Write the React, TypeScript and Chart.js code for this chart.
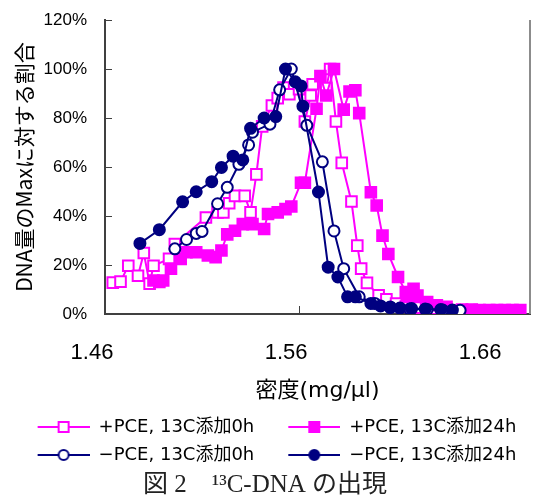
import React, { useEffect, useRef } from 'react';
import { Chart, registerables } from 'chart.js';

Chart.register(...registerables);

// ---- data ----
const xTickValues = [1.46, 1.56, 1.66];
const xMin = 1.46;
const xMax = 1.679;
const yMin = 0;
const yMax = 120;
const yStep = 20;

const seriesLabels = ['+PCE, 13C添加0h', '+PCE, 13C添加24h', '−PCE, 13C添加0h', '−PCE, 13C添加24h'];
const xTitle = '密度(mg/μl)';
const yTitle = 'DNA量のMaxに対する割合';
const caption = '図 2　¹³C-DNA の出現';

const plus0hX = [1.464, 1.468, 1.472, 1.477, 1.480, 1.483, 1.485, 1.493, 1.496, 1.512, 1.518, 1.521, 1.524, 1.527, 1.532, 1.535, 1.538, 1.541, 1.546, 1.549, 1.552, 1.555, 1.560, 1.563, 1.566, 1.567, 1.574, 1.576, 1.579, 1.582, 1.587, 1.590, 1.592, 1.595, 1.601, 1.605, 1.610, 1.615, 1.620, 1.628, 1.635, 1.643];
const plus0hY = [12.8, 13.2, 19.7, 15.6, 24.9, 12.4, 19.7, 22.5, 28.6, 39.4, 41.5, 41.5, 45.2, 48.2, 48.2, 41.5, 57.0, 76.6, 85.1, 88.1, 92.4, 89.7, 91.8, 78.6, 89.2, 93.8, 92.2, 100, 78.6, 61.7, 45.9, 27.9, 18.5, 12.7, 7.6, 6.0, 4.3, 3.0, 2.6, 2.2, 1.8, 1.4];

const plus24hX = [1.485, 1.488, 1.490, 1.494, 1.499, 1.502, 1.507, 1.513, 1.517, 1.520, 1.523, 1.527, 1.531, 1.536, 1.542, 1.544, 1.549, 1.553, 1.556, 1.561, 1.563, 1.569, 1.571, 1.574, 1.578, 1.583, 1.586, 1.589, 1.591, 1.597, 1.600, 1.603, 1.606, 1.611, 1.615, 1.616, 1.619, 1.621, 1.626, 1.631, 1.636, 1.644, 1.649, 1.653, 1.658, 1.662, 1.666, 1.670, 1.674];
const plus24hY = [13.7, 13.1, 13.7, 18.5, 22.5, 25.2, 25.2, 23.9, 23.2, 25.9, 32.5, 34.0, 36.7, 36.7, 34.7, 40.8, 41.5, 42.8, 43.9, 53.6, 53.6, 83.8, 97.1, 89.2, 100, 83.4, 90.8, 91.3, 82.0, 49.7, 44.3, 32.0, 24.5, 15.1, 9.0, 7.0, 10.3, 7.5, 4.9, 3.6, 2.9, 1.8, 1.8, 1.6, 1.6, 1.6, 1.6, 1.6, 1.6];

const minus0hX = [1.496, 1.502, 1.507, 1.510, 1.518, 1.523, 1.529, 1.534, 1.536, 1.545, 1.550, 1.556, 1.564, 1.572, 1.578, 1.583, 1.591, 1.599, 1.607, 1.617, 1.626, 1.634, 1.643];
const minus0hY = [26.6, 30.4, 32.9, 33.7, 45.0, 51.7, 61.1, 69.0, 74.2, 77.5, 91.5, 100, 77.0, 62.1, 33.9, 18.5, 7.0, 4.3, 2.6, 2.0, 1.8, 1.6, 1.5];

const minus24hX = [1.478, 1.488, 1.500, 1.507, 1.515, 1.520, 1.526, 1.531, 1.535, 1.542, 1.548, 1.553, 1.558, 1.561, 1.562, 1.570, 1.575, 1.580, 1.585, 1.589, 1.597, 1.602, 1.607, 1.612, 1.618, 1.625, 1.633, 1.639];
const minus24hY = [28.8, 34.4, 45.8, 49.9, 54.0, 59.8, 64.4, 62.9, 75.8, 80.0, 80.6, 100, 94.8, 93.1, 84.8, 49.8, 19.1, 15.1, 7.0, 7.0, 4.3, 3.3, 2.9, 2.4, 2.2, 2.0, 1.8, 1.6];

const MAGENTA = '#FF00FF';
const NAVY = '#000080';
const LATIN_CJK = '"DejaVu Sans", "Noto Sans CJK JP", sans-serif';

const zip = (xs: number[], ys: number[]) => xs.map((x, i) => ({ x, y: ys[i] }));

// legend icon: blank lead-in, then a line segment with the marker in its middle
const ICON_W = 76;
const ICON_LEAD = 24;
function makeLegendIcon(color: string, shape: 'rect' | 'circle', filled: boolean) {
  const c = document.createElement('canvas');
  c.width = ICON_W;
  c.height = 14;
  const ctx = c.getContext('2d')!;
  ctx.strokeStyle = color;
  ctx.lineWidth = 2;
  ctx.beginPath();
  ctx.moveTo(ICON_LEAD, 7);
  ctx.lineTo(ICON_W, 7);
  ctx.stroke();
  const cx = (ICON_LEAD + ICON_W) / 2;
  ctx.fillStyle = filled ? color : '#FFFFFF';
  ctx.beginPath();
  if (shape === 'rect') {
    ctx.rect(cx - 5, 2, 10, 10);
  } else {
    ctx.arc(cx, 7, 5, 0, Math.PI * 2);
  }
  ctx.fill();
  ctx.stroke();
  return c;
}

const frame = {
  id: 'frame',
  beforeDatasetsDraw(chart: any) {
    const { ctx, chartArea, scales } = chart;
    const { left, right, top, bottom } = chartArea;
    ctx.save();
    ctx.strokeStyle = '#404040';
    ctx.lineWidth = 1;
    scales.y.ticks.forEach((t: any) => {
      const py = Math.round(scales.y.getPixelForValue(t.value)) + 0.5;
      ctx.beginPath();
      ctx.moveTo(left, py);
      ctx.lineTo(left + 7, py);
      ctx.stroke();
    });
    scales.x.ticks.forEach((t: any) => {
      const px = Math.round(scales.x.getPixelForValue(t.value)) + 0.5;
      ctx.beginPath();
      ctx.moveTo(px, bottom);
      ctx.lineTo(px, bottom - 8);
      ctx.stroke();
    });
    ctx.strokeStyle = '#8C8C8C';
    ctx.lineWidth = 2;
    ctx.beginPath();
    ctx.moveTo(right, top);
    ctx.lineTo(right, bottom);
    ctx.stroke();
    ctx.restore();
  },
};

export default function App() {
  const ref = useRef<HTMLCanvasElement | null>(null);

  useEffect(() => {
    if (!ref.current) return;
    const icons = [
      makeLegendIcon(MAGENTA, 'rect', false),
      makeLegendIcon(MAGENTA, 'rect', true),
      makeLegendIcon(NAVY, 'circle', false),
      makeLegendIcon(NAVY, 'circle', true),
    ];
    const mk = (i: number, xs: number[], ys: number[], color: string, shape: string, filled: boolean, order: number) => ({
      label: seriesLabels[i],
      data: zip(xs, ys),
      borderColor: color,
      backgroundColor: color,
      borderWidth: 2,
      pointStyle: shape,
      pointRadius: shape === 'rect' ? 7.5 : 5.5,
      pointBorderWidth: 2,
      pointBorderColor: color,
      pointBackgroundColor: filled ? color : '#FFFFFF',
      fill: false,
      tension: 0,
      order,
    });
    const chart = new Chart(ref.current, {
      type: 'line',
      data: {
        datasets: [
          mk(0, plus0hX, plus0hY, MAGENTA, 'rect', false, 4),
          mk(1, plus24hX, plus24hY, MAGENTA, 'rect', true, 3),
          mk(2, minus0hX, minus0hY, NAVY, 'circle', false, 2),
          mk(3, minus24hX, minus24hY, NAVY, 'circle', true, 1),
        ] as any,
      },
      options: {
        animation: false,
        responsive: false,
        devicePixelRatio: 1,
        layout: { padding: { top: 20, right: 16, left: 0, bottom: 0 } },
        plugins: {
          tooltip: { enabled: false },
          legend: {
            position: 'bottom',
            maxHeight: 62,
            labels: {
              usePointStyle: true,
              pointStyleWidth: ICON_W,
              padding: 10,
              color: '#000',
              font: { family: LATIN_CJK, size: 18 },
              generateLabels: () =>
                seriesLabels.map((text, i) => ({
                  text,
                  pointStyle: icons[i] as any,
                  fillStyle: '#fff',
                  strokeStyle: '#fff',
                  lineWidth: 0,
                  hidden: false,
                  datasetIndex: i,
                  fontColor: '#000',
                })),
            },
          },
          title: {
            display: true,
            position: 'bottom',
            text: caption,
            color: '#222',
            padding: { top: 0, bottom: 0 },
            font: { family: '"Liberation Serif", "Noto Sans CJK JP", serif', size: 25, weight: 'normal' },
          },
        },
        scales: {
          x: {
            type: 'linear',
            min: xMin,
            max: xMax,
            afterBuildTicks: (s: any) => {
              s.ticks = xTickValues.map((v) => ({ value: v }));
            },
            afterFit: (s: any) => {
              s.height = 94;
            },
            grid: { display: true, drawOnChartArea: false, drawTicks: false },
            border: { display: true, color: '#404040', width: 2 },
            ticks: {
              padding: 26,
              labelOffset: -13,
              color: '#000',
              maxRotation: 0,
              font: { family: '"Liberation Sans", sans-serif', size: 22 },
              callback: (v: any) => Number(v).toFixed(2),
            },
            title: {
              display: true,
              text: xTitle,
              color: '#000',
              padding: { top: 0, bottom: 4 },
              font: { family: LATIN_CJK, size: 22 },
            },
          },
          y: {
            min: yMin,
            max: yMax,
            afterFit: (s: any) => {
              s.width = 105;
              s.paddingTop = 0;
              s.paddingBottom = 0;
            },
            grid: { display: true, drawOnChartArea: false, drawTicks: false },
            border: { display: true, color: '#404040', width: 2 },
            ticks: {
              stepSize: yStep,
              padding: 18,
              color: '#000',
              font: { family: '"Liberation Sans", sans-serif', size: 17 },
              callback: (v: any) => `${v}%`,
            },
            title: {
              display: true,
              text: yTitle,
              color: '#000',
              padding: { top: 11, bottom: 0 },
              font: { family: '"Noto Sans CJK JP", sans-serif', size: 21 },
            },
          },
        },
      } as any,
      plugins: [frame],
    });
    return () => chart.destroy();
  }, []);

  return (
    <div style={{ position: 'absolute', left: 0, top: 0, width: 546, height: 500, background: '#fff' }}>
      <canvas ref={ref} width={546} height={500} style={{ display: 'block' }} />
    </div>
  );
}
